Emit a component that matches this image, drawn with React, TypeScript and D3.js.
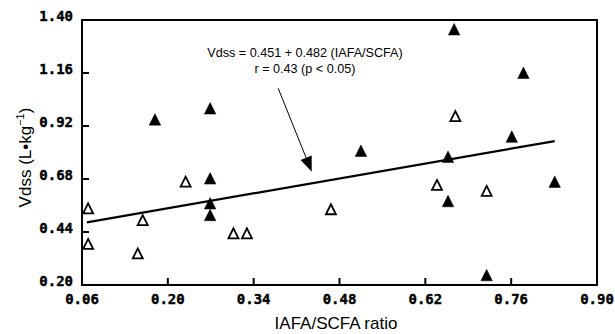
import React from "react";
import * as d3 from "d3";

const xTicks = [0.06, 0.2, 0.34, 0.48, 0.62, 0.76, 0.9];
const yTicks = [0.2, 0.44, 0.68, 0.92, 1.16, 1.4];

const openX = [0.070, 0.070, 0.159, 0.151, 0.229, 0.307, 0.329, 0.466, 0.639, 0.669, 0.720];
const openY = [0.547, 0.386, 0.494, 0.343, 0.668, 0.434, 0.434, 0.543, 0.653, 0.965, 0.626];

const filledX = [0.179, 0.269, 0.269, 0.269, 0.269, 0.515, 0.657, 0.657, 0.667, 0.780, 0.761, 0.831, 0.720];
const filledY = [0.950, 1.000, 0.683, 0.570, 0.517, 0.808, 0.781, 0.580, 1.358, 1.161, 0.872, 0.668, 0.245];

const intercept = 0.451;
const slope = 0.482;
const fitRange = [0.068, 0.831];

const eqLine1 = "Vdss = 0.451 + 0.482 (IAFA/SCFA)";
const eqLine2 = "r = 0.43 (p < 0.05)";
const annotX = 0.4237;
const annotY1 = 1.233;
const annotY2 = 1.159;
const arrowFrom = [0.38, 1.091];
const arrowTo = [0.4347, 0.713];

const W = 615;
const H = 334;
const L = 82, R = 597, T = 20, B = 285;

const tri = (cx: number, cy: number, w: number, h: number) =>
  `M${cx},${cy - h / 2}L${cx + w / 2},${cy + h / 2}L${cx - w / 2},${cy + h / 2}Z`;

export default function App() {
  const x = d3.scaleLinear().domain([0.06, 0.9]).range([L, R]);
  const y = d3.scaleLinear().domain([0.2, 1.4]).range([B, T]);
  const fmt = d3.format(".2f");
  const line = d3
    .line<number>()
    .x((d) => x(d))
    .y((d) => y(intercept + slope * d));

  const ax0 = x(arrowFrom[0]), ay0 = y(arrowFrom[1]);
  const ax1 = x(arrowTo[0]), ay1 = y(arrowTo[1]);
  const ang = Math.atan2(ay1 - ay0, ax1 - ax0);
  const hl = 15, hw = 6;
  const bx = ax1 - hl * Math.cos(ang), by = ay1 - hl * Math.sin(ang);
  const head = `M${ax1},${ay1}L${bx + hw * Math.sin(ang)},${by - hw * Math.cos(ang)}L${bx - hw * Math.sin(ang)},${by + hw * Math.cos(ang)}Z`;

  const tickFont = "'DejaVu Sans Mono', monospace";
  const textFont = "'Liberation Sans', Arial, sans-serif";

  return (
    <svg width={W} height={H} style={{ position: "absolute", left: 0, top: 0, background: "#fff" }}>
      <rect x={0} y={0} width={W} height={H} fill="#fff" />
      <rect x={L} y={T} width={R - L} height={B - T} fill="none" stroke="#000" strokeWidth={2} />
      {xTicks.map((t, i) => (
        <g key={"xt" + i}>
          {i > 0 && i < xTicks.length - 1 && (
            <line x1={x(t)} x2={x(t)} y1={B} y2={B - 7} stroke="#000" strokeWidth={2} />
          )}
          <text x={x(t)} y={304} textAnchor="middle" fontFamily={tickFont} fontWeight="bold" fontSize={14} fill="#000" stroke="#000" strokeWidth={0.4}>
            {fmt(t)}
          </text>
        </g>
      ))}
      {yTicks.map((t, i) => (
        <g key={"yt" + i}>
          {i > 0 && i < yTicks.length - 1 && (
            <line x1={L} x2={L + 7} y1={y(t)} y2={y(t)} stroke="#000" strokeWidth={2} />
          )}
          <text x={73} y={y(t) + 1} textAnchor="end" fontFamily={tickFont} fontWeight="bold" fontSize={14} fill="#000" stroke="#000" strokeWidth={0.4}>
            {fmt(t)}
          </text>
        </g>
      ))}
      <path d={line(fitRange) || ""} fill="none" stroke="#000" strokeWidth={2.2} />
      {openX.map((v, i) => (
        <path key={"o" + i} d={tri(x(v), y(openY[i]), 10, 10)} fill="#fff" stroke="#000" strokeWidth={1.8} strokeLinejoin="miter" />
      ))}
      {filledX.map((v, i) => (
        <path key={"f" + i} d={tri(x(v), y(filledY[i]), 11.5, 11.5)} fill="#000" stroke="#000" strokeWidth={0.5} />
      ))}
      <text x={x(annotX)} y={y(annotY1)} textAnchor="middle" fontFamily={textFont} fontSize={12.6} fill="#000">
        {eqLine1}
      </text>
      <text x={x(annotX)} y={y(annotY2)} textAnchor="middle" fontFamily={textFont} fontSize={12.6} fill="#000">
        {eqLine2}
      </text>
      <line x1={ax0} y1={ay0} x2={bx} y2={by} stroke="#000" strokeWidth={1} />
      <path d={head} fill="#000" />
      <text x={336} y={329} textAnchor="middle" fontFamily={textFont} fontSize={17} fill="#000">
        IAFA/SCFA ratio
      </text>
      <text
        transform={`translate(31,${(T + B) / 2 + 5}) rotate(-90)`}
        textAnchor="middle"
        fontFamily={textFont}
        fontSize={17}
        fill="#000"
      >
        Vdss (L•kg<tspan fontSize={11} dy={-7}>−1</tspan>
        <tspan dy={7}>)</tspan>
      </text>
    </svg>
  );
}
